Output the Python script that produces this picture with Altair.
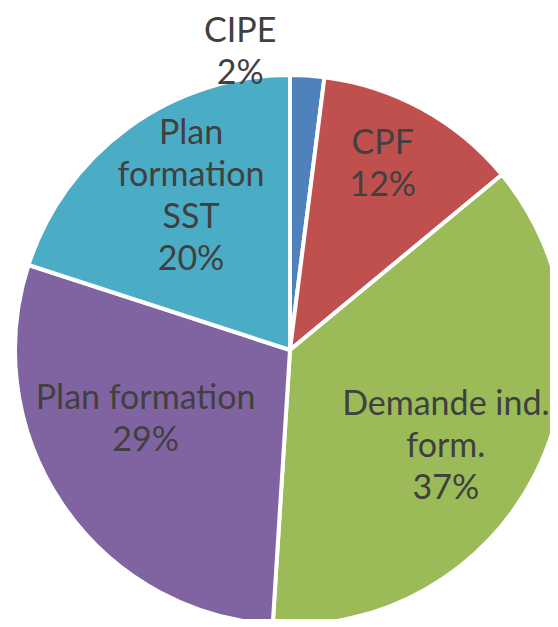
import altair as alt
import pandas as pd

categories = ["CIPE", "CPF", "Demande ind. form.", "Plan formation", "Plan formation SST"]
values = [2, 12, 37, 29, 20]
label_lines = ["CIPE\n2%", "CPF\n12%", "Demande ind.\nform.\n37%", "Plan formation\n29%", "Plan\nformation\nSST\n20%"]
colors = ["#4F81BD", "#C0504D", "#9BBB59", "#8064A2", "#4BACC6"]

df = pd.DataFrame({
    "cat": categories,
    "value": values,
    "label": label_lines,
    "order": list(range(len(categories))),
})

CX, CY, R = 282, 342, 275
LH = 42
# label placement styling: radius, dx, dy, number of lines
label_style = {
    "CIPE": (306, -69, 8, 2),
    "CPF": (205, -6, -5, 2),
    "Demande ind. form.": (185, -9, 13, 3),
    "Plan formation": (160, -12, -20, 2),
    "Plan formation SST": (182, 8, -6, 4),
}

base = alt.Chart(df)

pie = base.mark_arc(stroke="white", strokeWidth=4, clip=True).encode(
    theta=alt.Theta("value:Q", stack=True),
    color=alt.Color("cat:N", scale=alt.Scale(domain=categories, range=colors), legend=None),
    order=alt.Order("order:Q"),
    x=alt.value(CX), y=alt.value(CY), radius=alt.value(R),
)

layers = [pie]
for cat, (r, dx, dy, n) in label_style.items():
    t = base.mark_text(
        font="Lato", fontSize=34, color="#404040", lineBreak="\n", lineHeight=LH,
        align="center", baseline="middle", dx=dx, dy=dy - (n - 1) * LH / 2,
    ).encode(
        theta=alt.Theta("value:Q", stack=True),
        order=alt.Order("order:Q"),
        text=alt.condition(alt.datum.cat == cat, alt.Text("label:N"), alt.value("")),
        x=alt.value(CX), y=alt.value(CY), radius=alt.value(r),
    )
    layers.append(t)

chart = alt.layer(*layers).properties(
    width=542, height=611, padding=0, autosize="none"
).configure_view(stroke=None)

chart.save("out.html", embed_options={"renderer": "svg", "actions": False})
